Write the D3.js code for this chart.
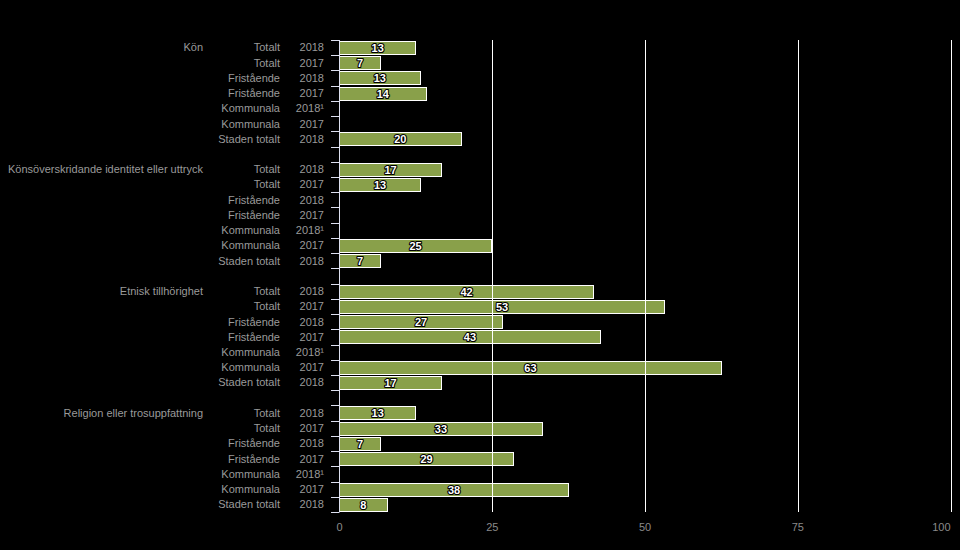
<!DOCTYPE html>
<html>
<head>
<meta charset="utf-8">
<script src="https://cdn.jsdelivr.net/npm/d3@7"></script>
<style>
  html, body { margin: 0; padding: 0; background: #000; }
  svg { display: block; font-family: "Liberation Sans", Arial, sans-serif; }
</style>
</head>
<body>
<svg id="chart" width="960" height="550"></svg>
<script>
const groups = ["Kön", "Könsöverskridande identitet eller uttryck", "Etnisk tillhörighet", "Religion eller trosuppfattning"];
const subgroups = ["Totalt", "Totalt", "Fristående", "Fristående", "Kommunala", "Kommunala", "Staden totalt"];
const years = ["2018", "2017", "2018", "2017", "2018¹", "2017", "2018"];
const valuesKon = [12.5, 6.7, 13.2, 14.2, null, null, 19.9];
const valuesKonsover = [16.7, 13.3, null, null, null, 24.9, 6.7];
const valuesEtnisk = [41.6, 53.2, 26.7, 42.7, null, 62.5, 16.7];
const valuesReligion = [12.5, 33.2, 6.7, 28.5, null, 37.5, 7.8];
const xTicks = [0, 25, 50, 75, 100];

const groupValues = [valuesKon, valuesKonsover, valuesEtnisk, valuesReligion];

// build rows (with a spacer row between groups)
const rows = [];
groups.forEach((g, gi) => {
  subgroups.forEach((s, si) => {
    rows.push({ key: gi + "-" + si, group: si === 0 ? g : "", sub: s, year: years[si], value: groupValues[gi][si] });
  });
  if (gi < groups.length - 1) rows.push({ key: gi + "-gap", group: "", sub: "", year: "", value: null });
});

const svg = d3.select("#chart");
const x = d3.scaleLinear().domain([0, 100]).range([339.5, 950.5]);
const y = d3.scaleBand().domain(rows.map(r => r.key)).range([40, 512]).paddingInner(0).paddingOuter(0);
const bw = y.bandwidth();

// bars
const barRows = rows.filter(r => r.value != null);
svg.append("g").selectAll("rect").data(barRows).join("rect")
  .attr("x", x(0))
  .attr("y", d => Math.round(y(d.key)) + 1.5)
  .attr("width", d => Math.round(x(d.value) - x(0)))
  .attr("height", 13)
  .attr("fill", "#89a04a")
  .attr("stroke", "#ffffff")
  .attr("stroke-width", 1);

// gridlines (drawn over bars)
svg.append("g").selectAll("line").data(xTicks.filter(t => t > 0)).join("line")
  .attr("x1", d => Math.round(x(d)) + 0.5).attr("x2", d => Math.round(x(d)) + 0.5)
  .attr("y1", 40).attr("y2", 512)
  .attr("stroke", "#ffffff").attr("stroke-width", 1);

// x tick labels
svg.append("g").selectAll("text").data(xTicks).join("text")
  .attr("x", d => x(d))
  .attr("y", 527)
  .attr("dy", "0.35em")
  .attr("text-anchor", d => d === 100 ? "end" : "middle")
  .attr("fill", "#8a8a8a")
  .attr("font-size", 11)
  .text(d => d);

// value labels
svg.append("g").selectAll("text").data(barRows).join("text")
  .attr("x", d => (x(0) + x(d.value)) / 2)
  .attr("y", d => y(d.key) + bw / 2 + 0.5)
  .attr("dy", "0.35em")
  .attr("text-anchor", "middle")
  .attr("font-size", 11)
  .attr("font-weight", "bold")
  .attr("fill", "#ffffff")
  .attr("stroke", "#000000")
  .attr("stroke-width", 2.2)
  .attr("stroke-linejoin", "round")
  .attr("paint-order", "stroke")
  .text(d => d3.format(".0f")(d.value));

// y axis line and ticks
svg.append("line")
  .attr("x1", 339.5).attr("x2", 339.5).attr("y1", 40).attr("y2", 512)
  .attr("stroke", "#dde0f0").attr("stroke-width", 1);
const boundaries = rows.map(r => y(r.key)).concat([512]);
svg.append("g").selectAll("line").data(boundaries).join("line")
  .attr("x1", 331).attr("x2", 339.5)
  .attr("y1", d => Math.round(d) + 0.5).attr("y2", d => Math.round(d) + 0.5)
  .attr("stroke", "#dde0f0").attr("stroke-width", 1);

// row labels
const lab = svg.append("g").attr("fill", "#9a9a9a").attr("font-size", 11);
lab.selectAll("text.grp").data(rows.filter(r => r.group)).join("text")
  .attr("class", "grp")
  .attr("x", 203).attr("y", d => y(d.key) + bw / 2).attr("dy", "0.35em")
  .attr("text-anchor", "end").text(d => d.group);
lab.selectAll("text.sub").data(rows.filter(r => r.sub)).join("text")
  .attr("class", "sub")
  .attr("x", 280).attr("y", d => y(d.key) + bw / 2).attr("dy", "0.35em")
  .attr("text-anchor", "end").text(d => d.sub);
lab.selectAll("text.yr").data(rows.filter(r => r.year)).join("text")
  .attr("class", "yr")
  .attr("x", 324).attr("y", d => y(d.key) + bw / 2).attr("dy", "0.35em")
  .attr("text-anchor", "end").text(d => d.year);
</script>
</body>
</html>
